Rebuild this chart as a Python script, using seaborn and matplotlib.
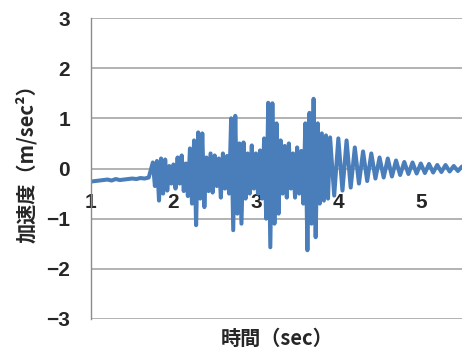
import numpy as np
import pandas as pd
import matplotlib
matplotlib.use('Agg')
import matplotlib.pyplot as plt
import seaborn as sns

# valores (aceleracion en m/sec2)
# tramo inicial casi plano, 1.00 - 1.70 s, paso 0.05 s
base_start = 1.0
base_step = 0.05
base_vals = [-0.26, -0.25, -0.24, -0.23, -0.22, -0.24, -0.21, -0.23, -0.22,
             -0.21, -0.20, -0.21, -0.19, -0.20, -0.18]

# tramo fuerte, 1.75 - 3.90 s, paso 0.025 s
strong_start = 1.75
strong_step = 0.025
strong_vals = [0.12, -0.35, 0.15, -0.64, 0.20, -0.50, 0.18, -0.44, 0.05, -0.30,
               0.08, -0.40, 0.22, -0.30, 0.26, -0.45, 0.10, -0.55, 0.40, -0.70,
               0.56, -1.13, 0.72, -0.60, 0.70, -0.77, 0.22, -0.45, 0.30, -0.48,
               0.26, -0.35, 0.20, -0.58, 0.30, -0.40, 0.25, -0.50, 1.00, -1.23,
               1.05, -0.90, 0.50, -1.10, 0.52, -0.60, 0.30, -0.50, 0.46, -0.40,
               0.30, -0.50, 0.36, -0.60, 0.60, -1.00, 1.31, -1.57, 1.30, -1.10,
               0.90, -0.90, 0.56, -0.50, 0.45, -0.58, 0.50, -0.40, 0.30, -0.58,
               0.42, -0.50, 0.35, -0.70, 0.90, -1.63, 1.11, -1.10, 1.39, -1.37,
               0.90, -0.70, 0.70, -0.64, 0.66, -0.60, 0.62]

# tramo de decaimiento, 3.95 - 5.50 s, paso 0.05 s
decay_start = 3.95
decay_step = 0.05
decay_vals = [-0.54, 0.60, -0.44, 0.56, -0.38, 0.42, -0.30, 0.34, -0.25, 0.30,
              -0.20, 0.22, -0.18, 0.20, -0.16, 0.16, -0.13, 0.13, -0.11, 0.12,
              -0.10, 0.10, -0.09, 0.09, -0.08, 0.07, -0.07, 0.07, -0.06, 0.05,
              -0.05, 0.04]

x_ticks = [1, 2, 3, 4, 5]
y_ticks = [-3, -2, -1, 0, 1, 2, 3]

def tramo(start, step, vals):
    return start + step * np.arange(len(vals))

t = np.concatenate([tramo(base_start, base_step, base_vals),
                    tramo(strong_start, strong_step, strong_vals),
                    tramo(decay_start, decay_step, decay_vals)])
acc = np.concatenate([base_vals, strong_vals, decay_vals])
df = pd.DataFrame({'t': t, 'acc': acc})

sns.set_style('white')
plt.rcParams['font.family'] = ['Noto Sans CJK JP', 'DejaVu Sans']

fig = plt.figure(figsize=(4.62, 3.56), dpi=100)
ax = fig.add_axes([91 / 462, 37 / 356, 371 / 462, 301 / 356])

sns.lineplot(data=df, x='t', y='acc', ax=ax, sort=False, estimator=None,
             color='#4A7EBB', linewidth=2.9)

ax.set_xlim(1, 5.5)
ax.set_ylim(-3, 3)
ax.set_yticks(y_ticks)
ax.set_yticklabels([str(v).replace('-', '\u2212') for v in y_ticks])
ax.set_xticks(x_ticks)
ax.set_xticklabels([str(v) for v in x_ticks])

for y in y_ticks:
    ax.axhline(y, color='#A6A6A6', linewidth=1.2, zorder=0)

for s in ['top', 'right']:
    ax.spines[s].set_visible(False)
ax.spines['left'].set_color('#8C8C8C')
ax.spines['left'].set_linewidth(1.0)
ax.spines['bottom'].set_position(('data', 0))
ax.spines['bottom'].set_visible(False)

ax.tick_params(axis='y', length=0, pad=15)
ax.tick_params(axis='x', length=0, pad=18)
for lab in ax.get_xticklabels() + ax.get_yticklabels():
    lab.set_family('Liberation Sans')
    lab.set_fontweight('bold')
    lab.set_fontsize(15)

ax.set_xlabel('')
ax.set_ylabel('')
fig.text(277 / 462, 1 - 338 / 356, '時間（sec）', ha='center', va='center',
         fontsize=14.5, fontweight='bold')
fig.text(26 / 462, 1 - 159 / 356, '加速度（m/sec²）', ha='center', va='center',
         rotation=90, fontsize=14.5, fontweight='bold')

fig.savefig('out.png', dpi=100)
